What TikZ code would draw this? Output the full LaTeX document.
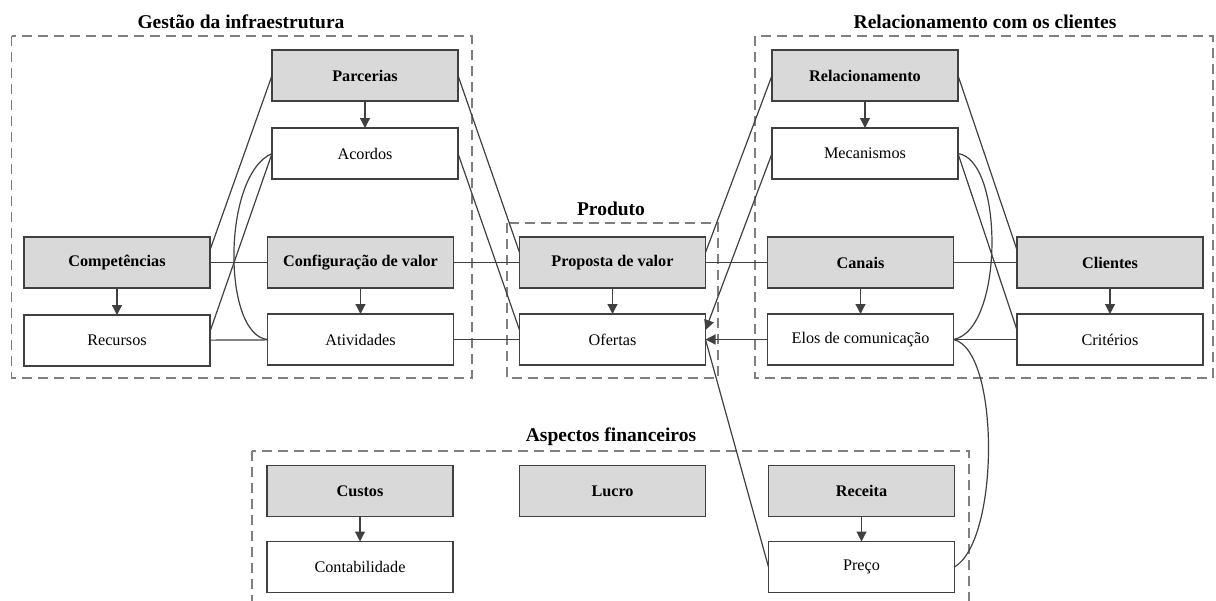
\documentclass[tikz,border=0pt]{standalone}
\usepackage{fontspec}
\setmainfont{Liberation Serif}
\usetikzlibrary{arrows.meta,calc}
\definecolor{ink}{HTML}{404040}
\definecolor{boxgray}{HTML}{D9D9D9}
\definecolor{dashgray}{HTML}{7F7F7F}
\begin{document}
\begin{tikzpicture}[x=1pt,y=-1pt,
  every node/.style={inner sep=0pt, outer sep=0pt},
  base/.style={draw=ink, line width=1.4pt, minimum width=186pt, minimum height=51pt,
    font=\fontsize{16.2}{19}\selectfont},
  headbox/.style={base, fill=boxgray, font=\fontsize{16.2}{19}\selectfont\bfseries},
  itembox/.style={base, fill=white},
  group/.style={draw=dashgray, line width=1.2pt, dash pattern=on 10pt off 6pt},
  grouplabel/.style={font=\fontsize{19.5}{23}\selectfont\bfseries},
  link/.style={draw=ink, line width=1.2pt},
  arr/.style={link, -{Triangle[length=10pt,width=10pt]}}
]
\useasboundingbox (0,0) rectangle (1216,600);

% dashed group frames
\draw[group] (11.7,36) rectangle (472,378);
\draw[group] (507,223) rectangle (718,378);
\draw[group] (755,36) rectangle (1213,378);
\begin{scope}
  \clip (0,0) rectangle (1216,600);
  \draw[group] (252,451) rectangle (969,640);
\end{scope}

% group titles
\node[grouplabel] (tinfra) at (241,22) {Gestão da infraestrutura};
\node[grouplabel] (trel) at (985,22) {Relacionamento com os clientes};
\node[grouplabel] (tprod) at (611,209) {Produto};
\node[grouplabel] (tfin) at (611,437) {Aspectos financeiros};

% boxes
\node[headbox] (comp) at (117,262.5) {Competências};
\node[itembox] (recu) at (117,340.5) {Recursos};
\node[headbox] (parc) at (365,75.5) {Parcerias};
\node[itembox] (acor) at (365,153.5) {Acordos};
\node[headbox] (conf) at (360.5,262.5) {Configuração de valor};
\node[itembox] (ativ) at (360.5,339.5) {Atividades};
\node[headbox] (prop) at (612.5,262.5) {Proposta de valor};
\node[itembox] (ofer) at (612.5,339.5) {Ofertas};
\node[headbox] (rela) at (865,75.5) {Relacionamento};
\node[itembox] (meca) at (865,153.5) {Mecanismos};
\node[headbox] (cana) at (860.5,262.5) {Canais};
\node[itembox] (elos) at (860.5,339.5) {Elos de comunicação};
\node[headbox] (clie) at (1110,262.5) {Clientes};
\node[itembox] (crit) at (1110,339.5) {Critérios};
\node[headbox] (cust) at (360,491) {Custos};
\node[itembox] (cont) at (360,567) {Contabilidade};
\node[headbox] (lucr) at (612.5,491) {Lucro};
\node[headbox] (rece) at (861.5,491) {Receita};
\node[itembox] (prec) at (861.5,567) {Preço};

% head to item arrows
\foreach \a/\b in {comp/recu, parc/acor, conf/ativ, prop/ofer, rela/meca,
                   cana/elos, clie/crit, cust/cont, rece/prec}
  \draw[arr] (\a) -- (\b);

% horizontal chains
\draw[link] (comp) -- (conf);
\draw[link] (conf) -- (prop);
\draw[link] (prop) -- (cana);
\draw[link] (cana) -- (clie);
\draw[link] (recu) -- (ativ);
\draw[link] (ativ) -- (ofer);
\draw[link] (elos) -- (crit);
\draw[arr] (elos.west) -- (ofer.east);

% diagonal links
\draw[link] (parc.west) -- ($(comp.east)+(0,-12.5)$);
\draw[link] (acor.west) -- ($(recu.east)+(0,-9)$);
\draw[link] (parc.east) -- ($(prop.west)+(0,-10)$);
\draw[link] (acor.east) -- ($(ofer.west)+(0,-9.5)$);
\draw[link] (rela.west) -- ($(prop.east)+(0,-10)$);
\draw[arr] (meca.west) -- ($(ofer.east)+(0,-9.5)$);
\draw[link] (rela.east) -- ($(clie.west)+(0,-12.5)$);
\draw[link] (meca.east) -- ($(crit.west)+(0,-9.5)$);
\draw[link] (prec.west) -- (ofer.east);

% curved links
\draw[link] (acor.west) .. controls (222,175) and (222,335) .. (ativ.west);
\draw[link] (meca.east) .. controls (1004,160) and (1004,330) .. (elos.east);
\draw[link] (elos.east) .. controls (1000,350) and (1000,540) .. (prec.east);
\end{tikzpicture}
\end{document}
